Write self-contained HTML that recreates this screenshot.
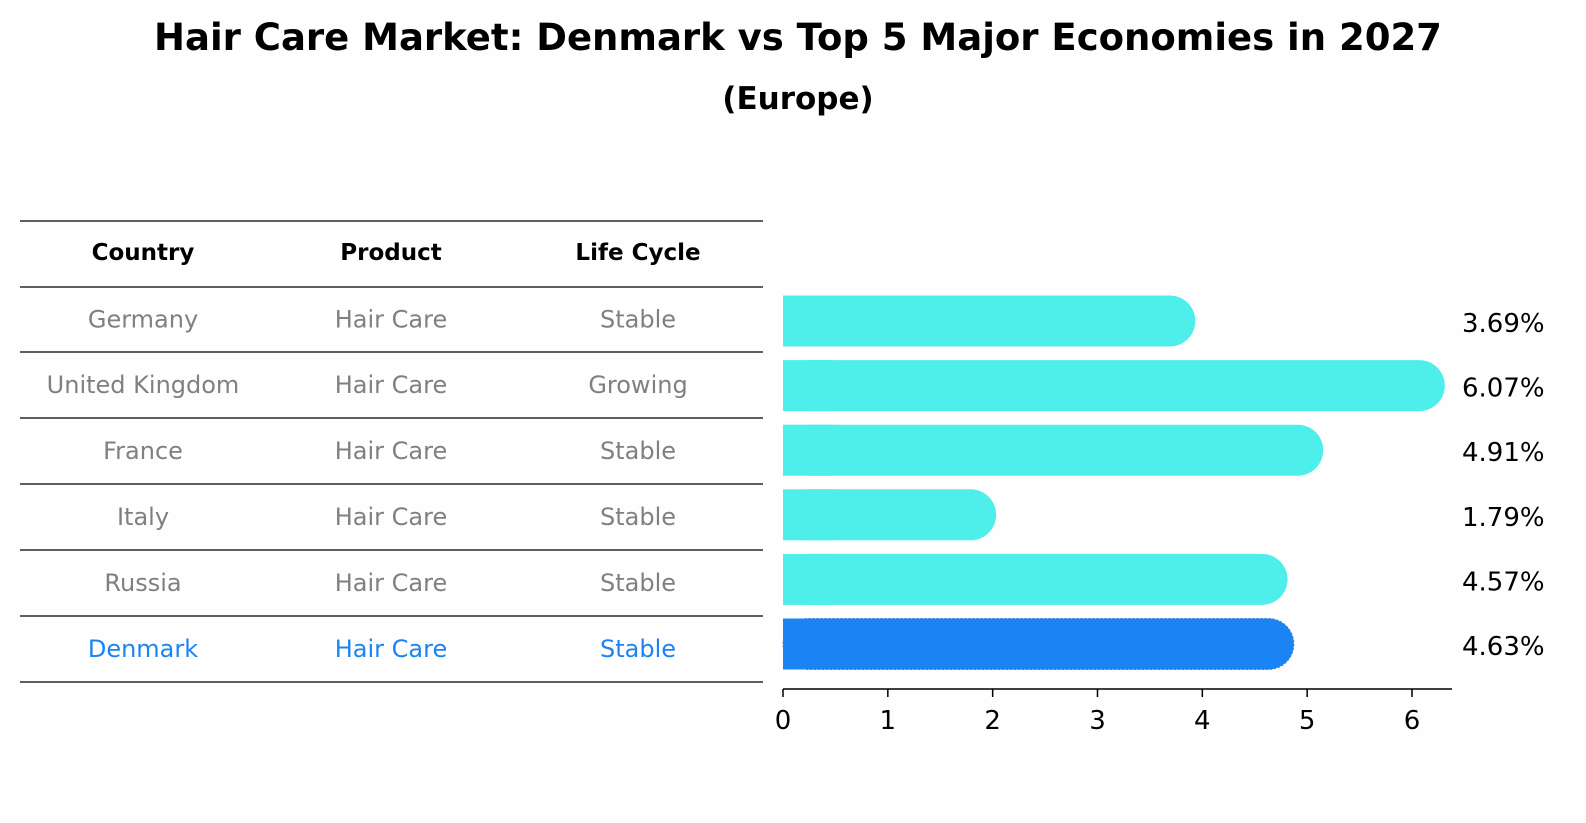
<!DOCTYPE html>
<html><head><meta charset="utf-8"><style>
html,body{margin:0;padding:0;overflow:hidden;background:#fffefe;width:1586px;height:823px;}
svg{display:block;}
</style></head><body>
<svg width="1586" height="823" xmlns="http://www.w3.org/2000/svg" style="font-family:'DejaVu Sans','Liberation Sans',sans-serif">
<rect width="1586" height="823" fill="#fffefe"/>
<text x="798" y="50" text-anchor="middle" font-size="37" font-weight="bold">Hair Care Market: Denmark vs Top 5 Major Economies in 2027</text>
<text x="798" y="109" text-anchor="middle" font-size="31" font-weight="bold">(Europe)</text>
<g id="table"></g>
<g id="bars"></g>
</svg>
<script>
const countries=["Germany","United Kingdom","France","Italy","Russia","Denmark"];
const products=["Hair Care","Hair Care","Hair Care","Hair Care","Hair Care","Hair Care"];
const lifecycles=["Stable","Growing","Stable","Stable","Stable","Stable"];
const values=[3.69,6.07,4.91,1.79,4.57,4.63];
const ticks=[0,1,2,3,4,5,6];
const NS="http://www.w3.org/2000/svg";
function mk(tag,attrs,parent){const e=document.createElementNS(NS,tag);for(const k in attrs)e.setAttribute(k,attrs[k]);parent.appendChild(e);return e;}
const tbl=document.getElementById('table');
const lineYs=[221,287,352,418,484,550,616,682];
lineYs.forEach((y,i)=>{const l=mk('line',{x1:20,x2:763,y1:y,y2:y,stroke:'#000','stroke-width':1.2},tbl);

});
const colX=[143,391,638];
["Country","Product","Life Cycle"].forEach((h,i)=>{const t=mk('text',{x:colX[i],y:260,'text-anchor':'middle','font-size':23,'font-weight':'bold'},tbl);t.textContent=h;

});
countries.forEach((c,r)=>{const y=(lineYs[r+1]+lineYs[r+2])/2+8;const col=r===countries.length-1?'#1a84f5':'#808080';
[c,products[r],lifecycles[r]].forEach((v,i)=>{const t=mk('text',{x:colX[i],y:y,'text-anchor':'middle','font-size':24,fill:col},tbl);t.textContent=v;

});});
const bg=document.getElementById('bars');
const x0=783,ppu=104.83;const xs=v=>x0+v*ppu;
const rowY=r=>321+r*64.6;const bh=51;
values.forEach((v,r)=>{const den=r===values.length-1;const y=rowY(r)-bh/2;
const w=xs(v)-x0+bh/2;const col=den?'#1a84f5':'#4eeeea';
const g=mk('g',{},bg);


mk('rect',{x:x0,y:y,width:w,height:bh,rx:bh/2,fill:col},g);
mk('rect',{x:x0,y:y,width:Math.min(w,bh),height:bh,fill:col},g);
if(den){mk('rect',{x:x0,y:y,width:w,height:bh,rx:bh/2,fill:'none',stroke:'#3a7fd0','stroke-width':1,'stroke-dasharray':'2,2'},g);}
const t=mk('text',{x:1462,y:rowY(r)+11,'font-size':26},bg);t.textContent=v.toFixed(2)+'%';

});
const ax=mk('line',{x1:x0,x2:1452,y1:689,y2:689,stroke:'#000','stroke-width':1.5},bg);


ticks.forEach(t=>{const l=mk('line',{x1:xs(t),x2:xs(t),y1:689,y2:697,stroke:'#000','stroke-width':1.5},bg);


const tx=mk('text',{x:xs(t),y:729,'text-anchor':'middle','font-size':26},bg);tx.textContent=t;

});
</script>
</body></html>
